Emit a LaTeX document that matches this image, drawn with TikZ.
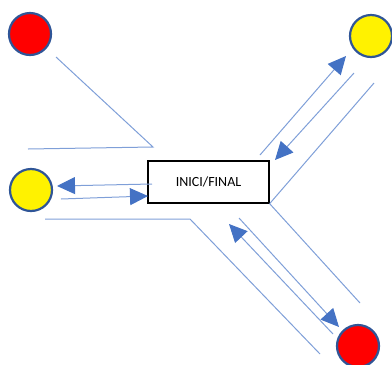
\documentclass[tikz,border=0pt]{standalone}
\usepackage{fontspec}
\setmainfont{Carlito}
\usetikzlibrary{arrows.meta}
\definecolor{ring}{HTML}{2F5597}
\definecolor{roadblue}{HTML}{7F9FD8}
\definecolor{head}{HTML}{4472C4}
\begin{document}
\begin{tikzpicture}[x=1pt, y=-1pt,
		dot/.style={circle, draw=ring, line width=2.2pt, minimum size=42pt, inner sep=0pt},
		wire/.style={draw=roadblue, line width=1pt},
		flow/.style={draw=roadblue, line width=1pt, -{Triangle[length=18pt, width=17pt, color=head]}}]
		\useasboundingbox (0,0) rectangle (392,365);
		% stations
		\node[dot, fill=red] (r1) at (30,34){};
		\node[dot, fill=yellow] (y1) at (371,36){};
		\node[dot, fill=yellow] (y2) at (31,190){};
		\node[dot, fill=red] (r2) at (358,346){};
		\node[draw, line width=1.3pt, minimum width=121pt, minimum height=42pt, font=\fontsize{14}{16}\selectfont] (ini) at (208.5,182){INICI/FINAL};
		% edges of the roads
		\coordinate (a1) at (56,57);
		\coordinate (a2) at (153,147);
		\coordinate (a3) at (28,149);
		\coordinate (b1) at (374,83);
		\coordinate (c1) at (45,219);
		\coordinate (c2) at (190,219);
		\coordinate (c3) at (320,354);
		\coordinate (d1) at (360,303);
		\draw[wire] (a1) -- (a2) -- (a3);
		\draw[wire] (ini.south east) -- (b1);
		\draw[wire] (c1) -- (c2) -- (c3);
		\draw[wire] (ini.south east) -- (d1);
		% trips
		\coordinate (p1) at (260,155);
		\coordinate (p2) at (346,56);
		\coordinate (p3) at (354,73);
		\coordinate (p4) at (275,160);
		\coordinate (q1) at (152,184);
		\coordinate (q2) at (57,186);
		\coordinate (q3) at (61,199);
		\coordinate (q4) at (148,196);
		\coordinate (s1) at (239,218);
		\coordinate (s2) at (339,327);
		\coordinate (s3) at (333,334);
		\coordinate (s4) at (229,224);
		\draw[flow] (p1) -- (p2);
		\draw[flow] (p3) -- (p4);
		\draw[flow] (q1) -- (q2);
		\draw[flow] (q3) -- (q4);
		\draw[flow] (s1) -- (s2);
		\draw[flow] (s3) -- (s4);
	\end{tikzpicture}
\end{document}
